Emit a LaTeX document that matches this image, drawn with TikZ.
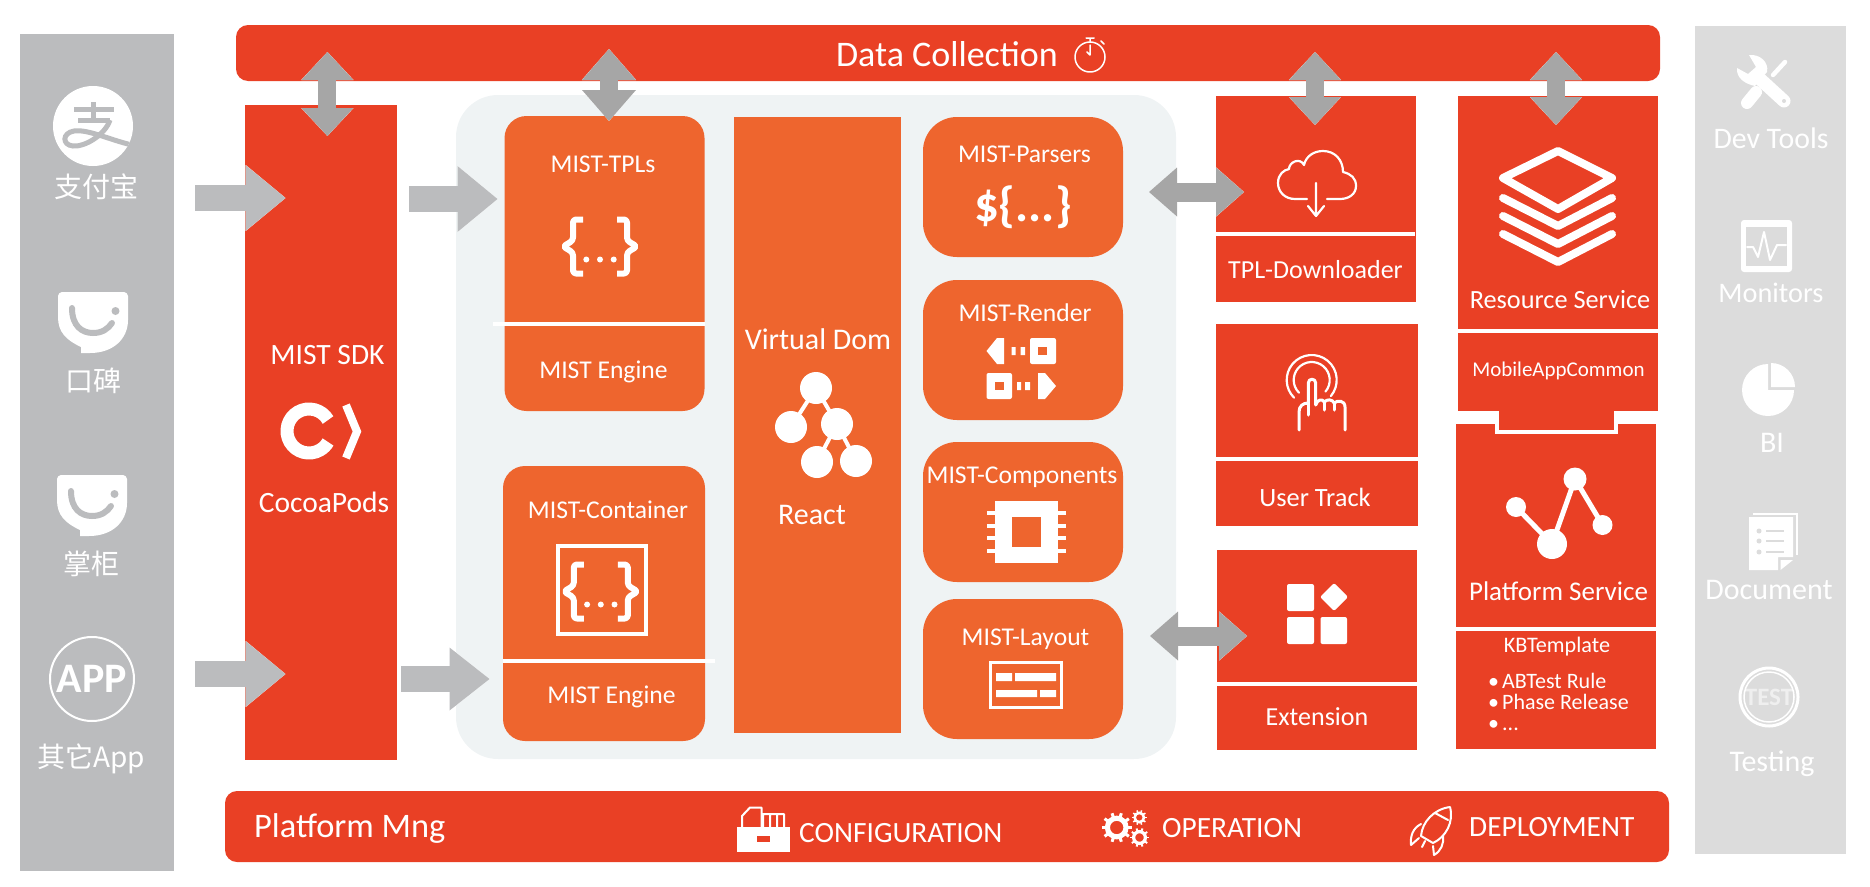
\documentclass[tikz,border=0pt]{standalone}
\usepackage{fontspec}
\setmainfont{Carlito}
\newfontfamily\cjk{Noto Sans CJK SC}
\usetikzlibrary{arrows.meta}
\definecolor{mistred}{HTML}{E94025}
\definecolor{mistorange}{HTML}{EE652E}
\definecolor{paleback}{HTML}{EFF3F4}
\definecolor{appgrey}{HTML}{BBBCBE}
\definecolor{toolgrey}{HTML}{DCDCDC}
\definecolor{linkgrey}{HTML}{A6A6A6}
\tikzset{
	box/.style={inner sep=0, anchor=north west, outer sep=0},
	redbox/.style={box, fill=mistred},
	orangebox/.style={box, fill=mistorange},
	softbox/.style={orangebox, rounded corners=22},
	roundbox/.style={orangebox, rounded corners=34, minimum width=200, minimum height=140},
	lbl/.style={text=white, inner sep=0, font=\fontsize{#1}{#1}\selectfont},
	lbl/.default=25.6,
	lblcjk/.style={lbl, font=\fontsize{28}{30}\selectfont\cjk},
	divider/.style={draw=white, line width=4},
	icon/.style={draw=white, line join=round, line cap=round},
	onearrow/.style n args={4}{preaction={draw=#1, line width=#2, arrows={-{Triangle[length=#3pt,width=#4pt,line width=1.5pt,color=white,fill=#1]}}},
		draw=#1, line width=#2, arrows={-{Triangle[length=#3pt,width=#4pt,line width=0pt,color=#1,fill=#1]}}},
	twoarrow/.style n args={4}{preaction={draw=#1, line width=#2, arrows={{Triangle[length=#3pt,width=#4pt,line width=1.5pt,color=white,fill=#1]}-{Triangle[length=#3pt,width=#4pt,line width=1.5pt,color=white,fill=#1]}}},
		draw=#1, line width=#2, arrows={{Triangle[length=#3pt,width=#4pt,line width=0pt,color=#1,fill=#1]}-{Triangle[length=#3pt,width=#4pt,line width=0pt,color=#1,fill=#1]}}},
	pics/smileicon/.style={code={
		\fill[white] (4,0) -- (66,0) .. controls (68,0) and (70,2) .. (70,4) -- (70,28) .. controls (70,47) and (55,61) .. (32,61) -- (23,61) -- (23,55) .. controls (8,48) and (0,40) .. (0,25) -- (0,4) .. controls (0,2) and (2,0) .. (4,0) -- cycle;
		\draw[appgrey, line width=6, line cap=round] (14,16) .. controls (14,34) and (24,41) .. (35,41) .. controls (44,41) and (50,37) .. (54,31);
		\fill[appgrey] (57.5,19) circle[radius=4pt];
	}},
	pics/gearicon/.style={code={
		\draw[white, line width=#1*0.34] (0,0) circle[radius=#1*0.62pt];
		\foreach \a in {0,36,...,324}
			\draw[white, line width=#1*0.2] (\a:#1*0.6pt) -- (\a:#1*1pt);
	}},
	pics/braceicon/.style={code={
		\foreach \s in {-1,1}
			\draw[white, line width=6, line join=round, rounded corners=3] (\s*17,-27) -- (\s*27,-27) -- (\s*27,-6) -- (\s*37,0) -- (\s*27,6) -- (\s*27,27) -- (\s*17,27);
		\foreach \s in {-13.7,0,13.7}
			\fill[white] (\s,13) circle[radius=3pt];
	}},
}
\begin{document}
\begin{tikzpicture}[x=1pt,y=-1pt]
	\useasboundingbox (0,0) rectangle (1870,886);
	% side panels
	\node[box, fill=appgrey, minimum width=154, minimum height=837] (apppanel) at (20,34) {};
	\node[box, fill=toolgrey, minimum width=151, minimum height=828] (toolpanel) at (1695,26) {};
	% top and bottom bars
	\node[redbox, rounded corners=12, minimum width=1424, minimum height=56] (databar) at (236,25) {};
	\node[redbox, rounded corners=12, minimum width=1444, minimum height=71] (mngbar) at (225,791) {};
	\node[lbl=36] (datatext) at (947,54) {Data Collection};
	\node[lbl=34.4, anchor=west] (mngtext) at (254,829) {Platform Mng};
	% main columns
	\node[redbox, minimum width=152, minimum height=655] (sdk) at (245,105) {};
	\node[box, fill=paleback, rounded corners=42, minimum width=720, minimum height=664] (core) at (456,95) {};
	\node[softbox, minimum width=200, minimum height=295] (tpls) at (504.5,116) {};
	\node[softbox, minimum width=202, minimum height=275] (container) at (503,466) {};
	\node[orangebox, minimum width=167, minimum height=616] (vdom) at (734,117) {};
	\node[roundbox] (parsers) at (923,117) {};
	\node[roundbox] (render) at (923,280) {};
	\node[roundbox] (components) at (923,442) {};
	\node[roundbox] (layout) at (923,599) {};
	\node[redbox, minimum width=200, minimum height=206] (downloader) at (1216,96) {};
	\node[redbox, minimum width=202, minimum height=202] (track) at (1216,324) {};
	\node[redbox, minimum width=200, minimum height=200] (extension) at (1217,550) {};
	\node[redbox, minimum width=200, minimum height=233] (resource) at (1458,96) {};
	\node[redbox, minimum width=200, minimum height=78] (common) at (1458,333) {};
	\node[redbox, minimum width=200, minimum height=203] (platform) at (1456,424) {};
	\node[redbox, minimum width=200, minimum height=118] (kbtpl) at (1456,631) {};
	\fill[white] (1495,424) rectangle (1618,434);
	\fill[mistred] (1499,410) rectangle (1614,430);
	\draw[divider] (493,324) -- (704.5,324);
	\draw[divider] (503,661) -- (715,661);
	\draw[divider] (1216,234) -- (1415,234);
	\draw[divider] (1216,459) -- (1418,459);
	\draw[divider] (1217,684) -- (1417,684);
	% labels
	\node[lbl=29.5] (sdktext) at (327.5,355) {MIST SDK};
	\node[lbl=29.5] (podstext) at (324,502) {CocoaPods};
	\node[lbl] (tplstext) at (603,164) {MIST-TPLs};
	\node[lbl] (enginea) at (603.5,372) {MIST Engine};
	\node[lbl] (containertext) at (608,510) {MIST-Container};
	\node[lbl] (engineb) at (611.5,697) {MIST Engine};
	\node[lbl=30] (vdomtext) at (818,339) {Virtual Dom};
	\node[lbl=30] (reacttext) at (812,515) {React};
	\node[lbl] (parserstext) at (1024.5,154) {MIST-Parsers};
	\node[lbl] (rendertext) at (1025,313) {MIST-Render};
	\node[lbl] (componentstext) at (1022,477) {MIST-Components};
	\node[lbl] (layouttext) at (1025.5,639) {MIST-Layout};
	\node[lbl=26] (downloadertext) at (1315.5,270) {TPL-Downloader};
	\node[lbl=26.4] (tracktext) at (1315,497) {User Track};
	\node[lbl=26] (extensiontext) at (1317,717) {Extension};
	\node[lbl=26.3] (resourcetext) at (1560,300) {Resource Service};
	\node[lbl=21] (commontext) at (1558.5,371) {MobileAppCommon};
	\node[lbl=27] (platformtext) at (1558.5,591) {Platform Service};
	\node[lbl=22.2] (kbtext) at (1557,647) {KBTemplate};
	\node[lbl=22, anchor=west, align=left] (kblist) at (1488,702) {\textbullet\hspace{3pt}ABTest Rule\\[-1pt]\textbullet\hspace{3pt}Phase Release\\[-1pt]\textbullet\hspace{3pt}...};
	\node[lbl=29.4, anchor=west] (configtext) at (799,833) {CONFIGURATION};
	\node[lbl=29.4, anchor=west] (operationtext) at (1162,828) {OPERATION};
	\node[lbl=29.4, anchor=west] (deploytext) at (1469,827) {DEPLOYMENT};
	% app panel
	\node[circle, fill=white, inner sep=0, minimum size=80] (alipay) at (93,126) {};
	\begin{scope}
		\clip (93,126) circle[radius=40pt];
		\draw[appgrey, line width=5] (74,109) -- (114,109) (93,102) -- (93,120) (78,120) -- (110,120);
		\draw[appgrey, line width=5] (110,120) .. controls (105,135) and (85,147) .. (73,146) .. controls (62,145) and (62,133) .. (74,131) .. controls (88,129) and (110,140) .. (132,145);
	\end{scope}
	\node[lblcjk] (alipaytext) at (96,187) {支付宝};
	\pic (koubei) at (58,292) {smileicon};
	\node[lblcjk] (koubeitext) at (93,381) {口碑};
	\pic (zhanggui) at (57,475) {smileicon};
	\node[lblcjk] (zhangguitext) at (91,564) {掌柜};
	\node[circle, draw=white, line width=2, inner sep=0, minimum size=84, text=white, font=\fontsize{42}{42}\selectfont\bfseries] (appmark) at (92,679) {APP};
	\node[lblcjk] (otherapptext) at (91,759) {其它App};
	% tool panel
	\node[lbl=29.8] (devtext) at (1771,138) {Dev Tools};
	\node[lbl=28.3] (monitortext) at (1771,293) {Monitors};
	\node[lbl=30] (bitext) at (1772,443) {BI};
	\node[lbl=30] (documenttext) at (1769,590) {Document};
	\node[lbl=30] (testingtext) at (1772,764) {Testing};
	\node[circle, draw=white, line width=3, inner sep=0, minimum size=58, text=white!55!toolgrey, font=\fontsize{25}{25}\selectfont\bfseries] (testmark) at (1769,697) {TEST};
	\draw[white, line width=1.5] (1769,697) circle[radius=25pt];
	% wrench and screwdriver
	\draw[white, line width=12, line cap=round] (1747,103) -- (1756,92);
	\draw[white, line width=4.5, line cap=round] (1773,75) -- (1785,62);
	\fill[white] (1749,55) .. controls (1760,54) and (1769,62) .. (1767,72) -- (1755,86) .. controls (1745,84) and (1736,78) .. (1737,68) -- (1748,74) -- (1756,67) -- cycle;
	\draw[white, line width=13, line cap=round] (1760,79) -- (1784,101);
	\fill[toolgrey] (1784,101) circle[radius=2pt];
	% monitor
	\fill[white, rounded corners=3] (1741,220) rectangle (1792,272);
	\fill[toolgrey] (1746,227) rectangle (1787,266);
	\draw[icon, line width=2] (1747,247) -- (1753,247) -- (1758,257) -- (1764,232) -- (1770,260) -- (1777,245) -- (1786,245);
	% pie
	\fill[white] (1768,390) -- (1768,364) arc[start angle=90, end angle=360, radius=26pt] -- cycle;
	\fill[white] (1771,387) -- (1771,363) arc[start angle=90, end angle=0, radius=24pt] -- cycle;
	% document
	\draw[white, line width=2] (1753,514) -- (1797,514) -- (1797,555);
	\fill[white] (1749,517) -- (1793,517) -- (1793,557) -- (1778,557) -- (1778,570) -- (1749,570) -- cycle;
	\fill[white] (1780.5,560) -- (1793,560) -- (1780.5,570) -- cycle;
	\foreach \y in {531,541,552} {
		\fill[toolgrey] (1759,\y) circle[radius=2.5pt];
		\draw[toolgrey, line width=2] (1766,\y) -- (1784,\y);
	}
	% timer
	\draw[icon, line width=1.5] (1090,57) circle[radius=15pt];
	\draw[icon, line width=1.5] (1086,38) -- (1094,38) (1090,38) -- (1090,42) (1101,41) -- (1104,44);
	\draw[icon, line width=1.5] (1090,45) -- (1090,55) -- (1087,52);
	% cocoapods
	\draw[white, line width=13] ([shift={(30:22pt)}]309,431) arc[start angle=30, end angle=330, radius=22pt];
	\draw[white, line width=8, line join=miter] (346,405) -- (357,431.5) -- (346,458);
	% braces
	\pic (bracea) at (600,246.5) {braceicon};
	\pic (braceb) at (600.8,591.5) {braceicon};
	\draw[white, line width=4] (557.5,546) rectangle (646,634);
	\node[lbl=49, font=\fontsize{49}{49}\selectfont\bfseries] (parsermark) at (1023,207) {\$\{...\}};
	% tree
	\foreach \p/\q in {816/388,791/427,837/424,817/462,856/461}
		\fill[white] (\p,\q) circle[radius=16pt];
	\draw[white, line width=4] (791,427) -- (816,388) -- (837,424) -- (817,462) (837,424) -- (856,461);
	% render arrows
	\fill[white, rounded corners=2] (1030,338) rectangle (1056,364);
	\fill[mistorange] (1038,347) rectangle (1047,355);
	\fill[white] (986.5,351) -- (997,338) -- (1004,338) -- (1004,364) -- (997,364) -- cycle;
	\fill[white] (1011.5,347) rectangle (1015.5,355) (1020.5,347) rectangle (1025,355);
	\fill[white, rounded corners=2] (986.5,373) rectangle (1012,399);
	\fill[mistorange] (995,382) rectangle (1004,390);
	\fill[white] (1056,386) -- (1045,373) -- (1038,373) -- (1038,399) -- (1045,399) -- cycle;
	\fill[white] (1017,382) rectangle (1021,390) (1025,382) rectangle (1030,390);
	% chip
	\foreach \y in {513,526,538,551}
		\fill[white] (986.5,\y-2) rectangle (1066,\y+2);
	\fill[white] (995,501) rectangle (1058,563);
	\fill[mistorange] (1011.5,517) rectangle (1041,547);
	% layout
	\draw[white, line width=3] (990.5,662.5) rectangle (1061.5,707.5);
	\fill[white] (996,673) rectangle (1012,681) (1015,673) rectangle (1056,681);
	\fill[white] (996,690) rectangle (1037,697) (1040,690) rectangle (1056,697);
	% cloud
	\draw[icon, line width=2.2] (1307,199) -- (1295,199) .. controls (1285,199) and (1278,192) .. (1278,183) .. controls (1278,174) and (1284,170) .. (1289,169) .. controls (1289,162) and (1300,157) .. (1304,165) .. controls (1306,156) and (1314,151) .. (1323,151) .. controls (1335,151) and (1343,160) .. (1343,172) .. controls (1351,174) and (1356,178) .. (1356,186) .. controls (1356,194) and (1349,199) .. (1340,199) -- (1327,199);
	\draw[icon, line width=2.2] (1316,183) -- (1316,216) (1308,206) -- (1316,216) -- (1324,206);
	% finger
	\draw[icon, line width=2.2] ([shift={(-40:25pt)}]1311.7,380) arc[start angle=-40, end angle=225, radius=25pt];
	\draw[icon, line width=2.2] ([shift={(-40:18pt)}]1311.7,380) arc[start angle=-40, end angle=225, radius=18pt];
	\draw[mistred, line width=7] (1312,378) -- (1312,402);
	\draw[icon, line width=3] (1299,430) -- (1299,412) .. controls (1299,406) and (1303,403) .. (1308.3,403) -- (1308.3,383) .. controls (1308.3,378) and (1315.7,378) .. (1315.7,383) -- (1315.7,405) .. controls (1317,400) and (1322,398) .. (1324.3,402) .. controls (1327,399) and (1332,399) .. (1334.3,403) .. controls (1337,400) and (1345,400) .. (1345,407) -- (1345,430);
	\draw[icon, line width=3] (1308.3,403) -- (1308.3,415) (1324.3,402) -- (1324.3,410) (1334.3,403) -- (1334.3,410);
	% blocks
	\fill[white, rounded corners=2] (1287,584) rectangle (1314,611) (1287,617) rectangle (1314,644) (1320.5,617) rectangle (1347,644);
	\fill[white, rounded corners=2] (1334,583) -- (1348,597) -- (1334,611) -- (1320,597) -- cycle;
	% stack
	\draw[icon, line width=8] (1558,151) -- (1612,178) -- (1558,209) -- (1503,178) -- cycle;
	\draw[icon, line width=8] (1503,198) -- (1558,226) -- (1612,198);
	\draw[icon, line width=8] (1503,216) -- (1558,244) -- (1612,216);
	\draw[icon, line width=8] (1503,234) -- (1558,262) -- (1612,234);
	% service graph
	\draw[white, line width=5] (1516,507) -- (1552,544) -- (1575,479) -- (1602.5,525);
	\fill[white] (1516,507) circle[radius=10pt] (1552,544) circle[radius=15pt] (1575,479) circle[radius=11.5pt] (1602.5,525) circle[radius=10pt];
	% configuration
	\fill[white] (737,827) rectangle (790,852);
	\fill[mistred] (757,836) rectangle (770,842);
	\draw[icon, line width=2] (742,827) -- (742,816) -- (750,807.5) -- (761.5,807.5) -- (761.5,827) (763,814) -- (784,814) -- (784,827) (770,814) -- (770,827) (777,814) -- (777,827) (763,814) -- (763,827);
	% operation
	\pic (geara) at (1116.7,827.5) {gearicon=15};
	\pic (gearb) at (1139.3,817.5) {gearicon=7.5};
	\pic (gearc) at (1139.5,837.5) {gearicon=9.5};
	% deployment
	\draw[icon, line width=2] (1450,807) .. controls (1434,809) and (1422,822) .. (1421,836) -- (1433,843) .. controls (1446,837) and (1454,822) .. (1450,807) -- cycle;
	\draw[icon, line width=2] (1435,813) -- (1448,820);
	\draw[icon, line width=2] (1421,824) .. controls (1413,828) and (1410,836) .. (1411,845) -- (1419,838);
	\draw[icon, line width=2] (1443,836) .. controls (1444,844) and (1441,851) .. (1434,855) -- (1433,846);
	\draw[icon, line width=2] (1425,841) -- (1422,847);
	% connectors
	\coordinate (rowa) at (0,198);
	\coordinate (rowb) at (0,199);
	\coordinate (rowc) at (0,674);
	\coordinate (rowd) at (0,679);
	\coordinate (rowe) at (0,192);
	\coordinate (rowf) at (0,636);
	\coordinate (cola) at (327.4,0);
	\coordinate (colb) at (609,0);
	\coordinate (colc) at (1315,0);
	\coordinate (cold) at (1556,0);
	\draw[onearrow={appgrey}{26}{40}{66}, shorten <=21pt, shorten >=-40.5pt] (apppanel.east |- rowa) -- (sdk.west |- rowa);
	\draw[onearrow={appgrey}{26}{40}{66}, shorten <=21pt, shorten >=-40.5pt] (apppanel.east |- rowc) -- (sdk.west |- rowc);
	\draw[onearrow={appgrey}{26}{40}{66}, shorten <=12pt, shorten >=7pt] (sdk.east |- rowb) -- (tpls.west |- rowb);
	\draw[onearrow={appgrey}{26}{40}{63}, shorten <=4pt, shorten >=13.5pt] (sdk.east |- rowd) -- (container.west |- rowd);
	\draw[twoarrow={linkgrey}{18}{28}{52}, shorten <=-29pt, shorten >=-31pt] (databar.south -| cola) -- (sdk.north -| cola);
	\draw[twoarrow={linkgrey}{18}{31}{54}, shorten <=-32pt, shorten >=-5pt] (databar.south -| colb) -- (tpls.north -| colb);
	\draw[twoarrow={linkgrey}{18}{28}{52}, shorten <=-29pt, shorten >=-29pt] (databar.south -| colc) -- (downloader.north -| colc);
	\draw[twoarrow={linkgrey}{18}{28}{52}, shorten <=-29pt, shorten >=-29pt] (databar.south -| cold) -- (resource.north -| cold);
	\draw[twoarrow={linkgrey}{19}{28}{49}, shorten <=26pt, shorten >=-28pt] (parsers.east |- rowe) -- (downloader.west |- rowe);
	\draw[twoarrow={linkgrey}{19}{28}{49}, shorten <=27pt, shorten >=-30pt] (layout.east |- rowf) -- (extension.west |- rowf);
\end{tikzpicture}
\end{document}
